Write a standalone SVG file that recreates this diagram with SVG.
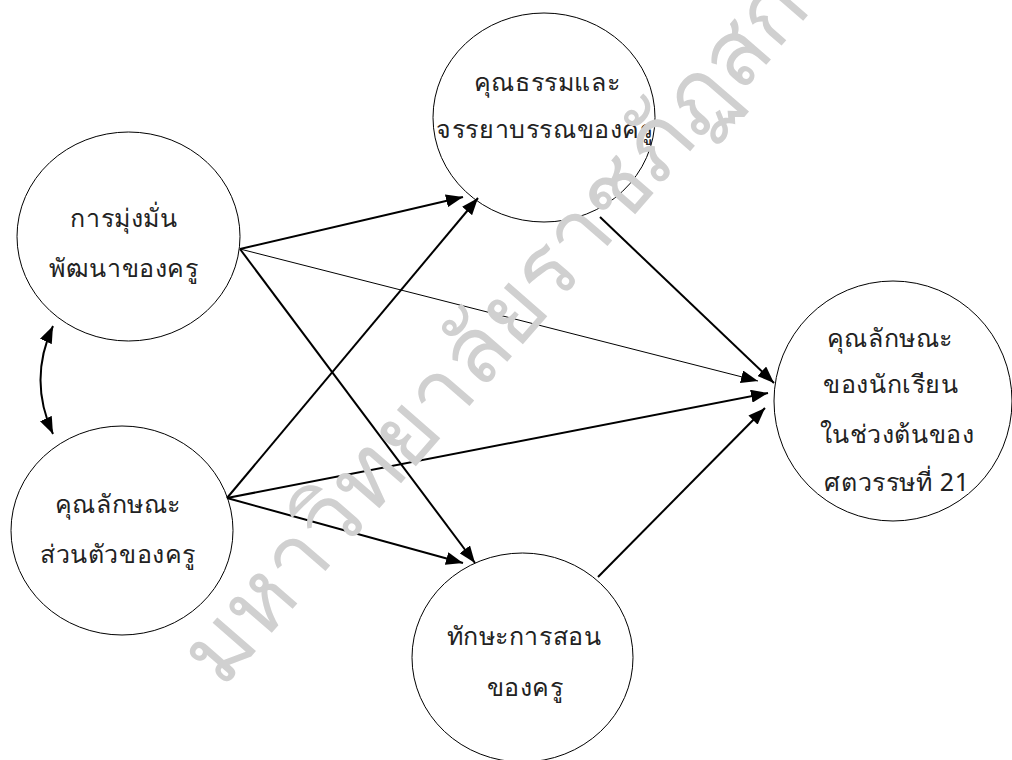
<svg xmlns="http://www.w3.org/2000/svg" width="1012" height="760" viewBox="0 0 1012 760">
<style>
.node ellipse{fill:#fff;stroke:#000;stroke-width:1}
.lbl{font-family:"Noto Sans","DejaVu Sans",sans-serif;font-size:25px;letter-spacing:0.6px;fill:#222;text-anchor:middle}
.wm{font-family:"Noto Sans","DejaVu Sans",sans-serif;font-size:92px;font-weight:200;fill:#d0d0d0}
.c{fill:none;stroke:#000;stroke-width:2}
.c.thin{stroke-width:1}
</style>
<defs>
<marker id="ah" markerUnits="userSpaceOnUse" markerWidth="17" markerHeight="13" refX="17" refY="6.5" orient="auto">
<path d="M0,0 L17,6.5 L0,13 z" fill="#000"/>
</marker>
<marker id="ahs" markerUnits="userSpaceOnUse" markerWidth="17" markerHeight="13" refX="17" refY="6.5" orient="auto-start-reverse">
<path d="M0,0 L17,6.5 L0,13 z" fill="#000"/>
</marker>
</defs>
<rect width="1012" height="760" fill="#fff"/>
<g id="nodes-bg">
<g id="n-dev" class="node"><ellipse cx="128.5" cy="236.5" rx="111.5" ry="104.5"/></g>
<g id="n-pers" class="node"><ellipse cx="122" cy="530.5" rx="111" ry="104.5"/></g>
<g id="n-moral" class="node"><ellipse cx="544" cy="117.5" rx="111" ry="104.5"/></g>
<g id="n-teach" class="node"><ellipse cx="522.5" cy="657.5" rx="110.5" ry="104.5"/></g>
<g id="n-student" class="node"><ellipse cx="893" cy="401" rx="119" ry="120"/></g>
</g>
<g id="connectors">
<line class="c" x1="240" y1="249" x2="463" y2="197" marker-end="url(#ah)"/>
<line class="c thin" x1="240" y1="249" x2="758" y2="381" marker-end="url(#ah)"/>
<line class="c" x1="240" y1="249" x2="475" y2="563" marker-end="url(#ah)"/>
<line class="c" x1="227" y1="498" x2="478" y2="198" marker-end="url(#ah)"/>
<line class="c" x1="227" y1="498" x2="768" y2="393" marker-end="url(#ah)"/>
<line class="c" x1="227" y1="498" x2="463" y2="563" marker-end="url(#ah)"/>
<line class="c" x1="600" y1="217" x2="774" y2="383" marker-end="url(#ah)"/>
<line class="c" x1="598" y1="577" x2="765" y2="408" marker-end="url(#ah)"/>
<path class="c" d="M53,326 Q28,380 53,434" marker-start="url(#ahs)" marker-end="url(#ah)"/>
</g>
<g id="labels">
<text class="lbl" x="124" y="227">การมุ่งมั่น</text>
<text class="lbl" x="124" y="277">พัฒนาของครู</text>
<text class="lbl" x="118" y="513">คุณลักษณะ</text>
<text class="lbl" x="118" y="563">ส่วนตัวของครู</text>
<text class="lbl" x="547" y="91">คุณธรรมและ</text>
<text class="lbl" x="545" y="138">จรรยาบรรณของครู</text>
<text class="lbl" x="524" y="645">ทักษะการสอน</text>
<text class="lbl" x="525" y="696">ของครู</text>
<text class="lbl" x="890" y="347">คุณลักษณะ</text>
<text class="lbl" x="891" y="393">ของนักเรียน</text>
<text class="lbl" x="897" y="443">ในช่วงต้นของ</text>
<text class="lbl" x="897" y="491">ศตวรรษที่ 21</text>
</g>
<text class="wm" x="0" y="0" transform="translate(222,690) rotate(-49)">มหาวิทยาลัยราชภัฏสกลนคร</text>
</svg>
